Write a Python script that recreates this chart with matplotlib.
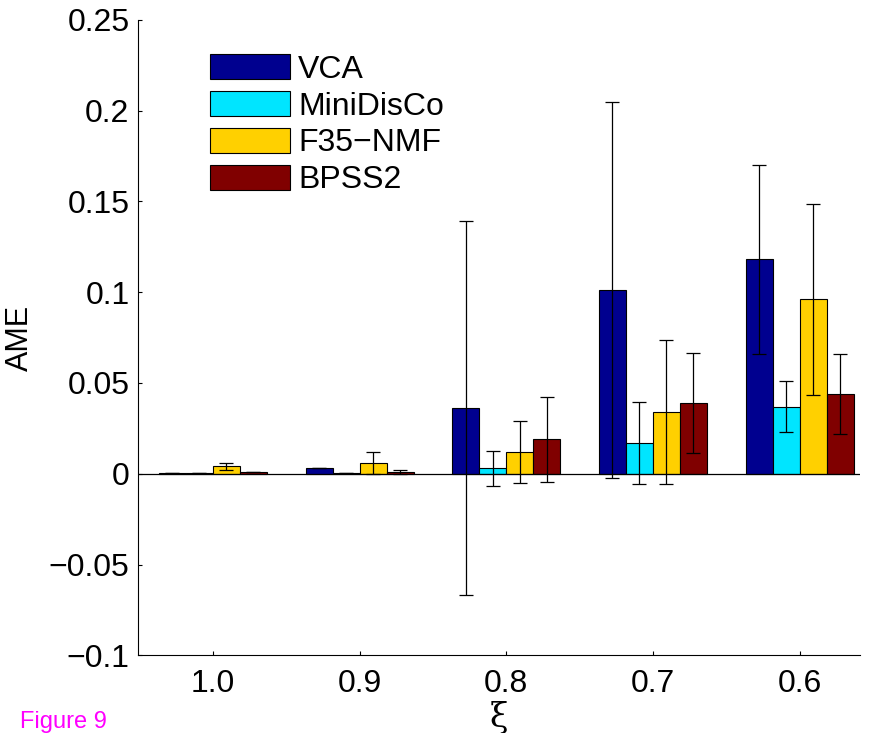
import numpy as np
import matplotlib.pyplot as plt

plt.rcParams['font.family'] = ['Liberation Sans', 'DejaVu Sans']

# noise level groups
groups = ["1.0", "0.9", "0.8", "0.7", "0.6"]
methods = ["VCA", "MiniDisCo", "F35\u2212NMF", "BPSS2"]
colors = ["#00008F", "#00E5FF", "#FFD000", "#800000"]

# mean AME per method (one value per group)
vca = [0.0003, 0.003, 0.036, 0.101, 0.118]
minidisco = [0.0003, 0.0005, 0.003, 0.017, 0.037]
f35 = [0.004, 0.006, 0.012, 0.034, 0.096]
bpss2 = [0.001, 0.001, 0.019, 0.039, 0.044]

# standard deviations
vca_err = [0.0, 0.0, 0.103, 0.1035, 0.052]
minidisco_err = [0.0, 0.0, 0.0095, 0.0225, 0.014]
f35_err = [0.002, 0.006, 0.017, 0.0395, 0.0525]
bpss2_err = [0.0, 0.001, 0.0235, 0.0275, 0.022]

means = [vca, minidisco, f35, bpss2]
errs = [vca_err, minidisco_err, f35_err, bpss2_err]

fig = plt.figure(figsize=(8.73, 7.33), dpi=100)
ax = fig.add_axes([0.158, 0.106, 0.827, 0.867])

ind = np.arange(len(groups))
width = 0.184
for i in range(4):
    pos = ind + (i - 1.5) * width
    ax.bar(pos, means[i], width, color=colors[i], edgecolor="black",
           linewidth=0.8, label=methods[i])
    ax.errorbar(pos, means[i], yerr=errs[i], fmt="none", ecolor="black",
                elinewidth=0.9, capsize=5, capthick=0.9)

ax.axhline(0, color="black", linewidth=0.9)
ax.set_xlim(-0.51, 4.41)
ax.set_ylim(-0.1, 0.25)
ax.set_xticks(ind)
ax.set_xticklabels(groups)
ax.set_yticks(np.arange(-0.1, 0.2501, 0.05))
ax.set_yticklabels(["\u22120.1", "\u22120.05", "0", "0.05", "0.1", "0.15", "0.2", "0.25"])
ax.tick_params(labelsize=23, direction="in", length=3)
ax.tick_params(axis="x", pad=10)
ax.tick_params(axis="y", pad=6)
ax.spines["top"].set_visible(False)
ax.spines["right"].set_visible(False)
ax.set_ylabel("AME", fontsize=22, labelpad=10)
ax.set_xlabel("\u03be", fontsize=24, labelpad=1, family=["DejaVu Serif"])

ax.legend(loc="upper left", bbox_to_anchor=(0.0825, 0.966), frameon=False,
          fontsize=23, handlelength=2.5, handleheight=0.82, labelspacing=0.2,
          handletextpad=0.25, borderaxespad=0)

fig.text(0.023, 0.007, "Figure 9", color="#FF00FF", fontsize=17)

fig.savefig("out.png", dpi=100)
